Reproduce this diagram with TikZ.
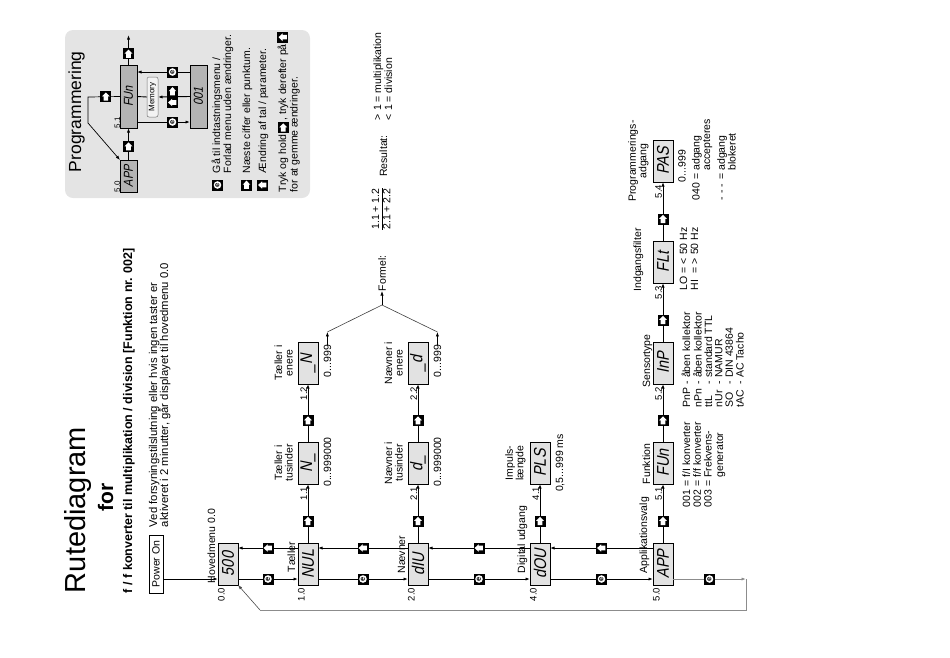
\documentclass[tikz,border=0pt]{standalone}
\usepackage{fontspec}
\setmainfont{Liberation Sans}
\newfontfamily\segfont{Liberation Sans}[FakeSlant=0.2,FakeStretch=0.85]
\usetikzlibrary{arrows.meta,calc}
\definecolor{boxfill}{HTML}{E2E2E2}
\definecolor{panelfill}{HTML}{E4E4E4}
\definecolor{pboxfill}{HTML}{B4B4B4}
\definecolor{retgrey}{HTML}{8C8C8C}
\tikzset{
  every node/.style={inner sep=0pt,outer sep=0pt},
  txt/.style={rotate=90,font=\fontsize{10.5}{10.5}\selectfont},
  lvl/.style={rotate=90,font=\fontsize{9.5}{9.5}\selectfont},
  nm/.style={txt,align=center},
  disp/.style={draw=black,line width=0.9pt,fill=boxfill,minimum width=20pt,minimum height=42pt,
    font=\segfont\fontsize{17}{17}\selectfont},
  pdisp/.style={draw=black,line width=0.8pt,fill=pboxfill,minimum width=17pt,
    font=\segfont\fontsize{13}{13}\selectfont},
  conn/.style={line width=0.9pt,-{Latex[length=4.5pt,width=3.2pt]}},
  thinline/.style={line width=0.6pt,draw=black!75},
  keybase/.style={fill=black,draw=none,minimum size=11pt,inner sep=0pt},
  ekey/.style={keybase,path picture={
      \fill[white] (path picture bounding box.center) circle (3.8pt);
      \node[rotate=90,font=\bfseries\fontsize{7.5}{7.5}\selectfont,text=black] at (path picture bounding box.center) {e};}},
  rkey/.style={keybase,path picture={
      \fill[white,shift={(path picture bounding box.center)}]
        (0,-4.3) -- (3.9,-0.3) -- (2.3,-0.3) -- (2.3,3.9) -- (-2.3,3.9) -- (-2.3,-0.3) -- (-3.9,-0.3) -- cycle;}},
  lkey/.style={keybase,path picture={
      \fill[white,shift={(path picture bounding box.center)}]
        (-4.3,0) -- (-0.3,-3.9) -- (-0.3,-2.3) -- (3.9,-2.3) -- (3.9,2.3) -- (-0.3,2.3) -- (-0.3,3.9) -- cycle;}}
}
\newcommand{\dt}[1]{\rotatebox{90}{#1}}
\begin{document}
\begin{tikzpicture}[x=1pt,y=-1pt]
\useasboundingbox (0,0) rectangle (950,657);

% ---------------- programming panel ----------------
\node[fill=panelfill,rounded corners=8pt,minimum width=245pt,minimum height=168pt] (panel) at (187.5,114) {};
\node[txt,font=\fontsize{17.5}{17.5}\selectfont,anchor=base west] (ptitle) at (81,172) {Programmering};
\node[pdisp,minimum height=32pt] (pAPP) at (128.5,176) {\dt{APP}};
\node[pdisp,minimum height=63pt] (pFUn) at (128.5,96.5) {\dt{FUn}};
\node[pdisp,minimum height=63pt] (p001) at (198.5,96.5) {\dt{001}};
\node[lvl,font=\fontsize{8}{8}\selectfont,anchor=base west] (p50) at (120,192) {5.0};
\node[lvl,font=\fontsize{8}{8}\selectfont,anchor=base west] (p51) at (120,128) {5.1};
\node[draw=black!55,line width=0.5pt,fill=white!55!panelfill,rounded corners=2pt,minimum width=11pt,minimum height=40pt,
      font=\fontsize{8}{8}\selectfont] (mem) at (152.5,97) {\dt{Memory}};
\coordinate (pout) at (128.5,35);
\coordinate (pl1) at (88,97);
\coordinate (pl2) at (88,123);
\draw[conn] (pAPP.north) -- node[rkey,pos=0.42] (pk0) {} (pFUn.south);
\draw[conn] (pFUn.north) -- node[rkey,pos=0.37] (pk5) {} (pout);
\draw[conn,line width=0.7pt] (pFUn.west) -- node[rkey,pos=0.44] (pk6) {} (pl1) -- (pl2) -- (pAPP.north west);
\draw[conn] ([yshift=24.5pt]p001.west) -- node[ekey,pos=0.33] (pk1) {} ([yshift=24.5pt]pFUn.east);
\draw[conn] (p001.west) -- (mem.east);
\draw[line width=0.9pt] (mem.west) -- (pFUn.east);
\draw[conn] ([yshift=-25.5pt]pFUn.east) -- node[ekey,pos=0.67] (pk4) {} ([yshift=-25.5pt]p001.west);
\node[rkey] (pk2) at (172.5,91.5) {};
\node[lkey] (pk3) at (172.5,102.5) {};
% legend
\node[ekey] (lk1) at (217.5,185) {};
\node[rkey] (lk2) at (246.5,185) {};
\node[lkey] (lk3) at (262.5,185) {};
\node[txt,anchor=base west] (lt1) at (220,173) {Gå til indtastningsmenu /};
\node[txt,anchor=base west] (lt2) at (231,173) {Forlad menu uden ændringer.};
\node[txt,anchor=base west] (lt3) at (250,173) {Næste ciffer eller punktum.};
\node[txt,anchor=base west] (lt4) at (266,173) {Ændring af tal / parameter.};
\node[txt,anchor=base west] (lt5a) at (286,192) {Tryk og hold};
\node[rkey] (lk4) at ($(lt5a.east)+(0,-7)$) {};
\node[txt,anchor=base west] (lt5b) at ($(lk4.north -| lt5a.base west)+(0,-1.5)$) {, tryk derefter på};
\node[lkey] (lk5) at ($(lt5b.east)+(0,-7)$) {};
\node[txt,anchor=base west] (lt6) at (297.5,192) {for at gemme ændringer.};

% ---------------- titles ----------------
\node[txt,font=\fontsize{29}{29}\selectfont,anchor=base] (title) at (85,510) {Rutediagram};
\node[txt,font=\bfseries\fontsize{21}{21}\selectfont,anchor=base] (for) at (113,497) {for};
\node[txt,font=\bfseries\fontsize{12.5}{12.5}\selectfont,anchor=base west] (sub) at (132,593)
  {f / f konverter til multiplikation / division [Funktion nr. 002]};
\node[txt,font=\fontsize{11.3}{11.3}\selectfont,anchor=base west] (ved1) at (157,527)
  {Ved forsyningstilslutning eller hvis ingen taster er};
\node[txt,font=\fontsize{11.3}{11.3}\selectfont,anchor=base west] (ved2) at (168,527)
  {aktiveret i 2 minutter, går displayet til hovedmenu 0.0};

% ---------------- main boxes ----------------
\node[draw=black,line width=0.8pt,minimum width=14pt,minimum height=58pt,font=\fontsize{10.5}{10.5}\selectfont] (pwr) at (156,564) {\dt{Power On}};
\node[disp] (b00) at (228,564) {\dt{500}};
\node[disp] (b10) at (308,564) {\dt{NUL}};
\node[disp] (b11) at (308,463) {\dt{N\_}};
\node[disp] (b12) at (308,363) {\dt{\_N}};
\node[disp] (b20) at (418,564) {\dt{dIU}};
\node[disp] (b21) at (418,463) {\dt{d\_}};
\node[disp] (b22) at (418,363) {\dt{\_d}};
\node[disp] (b40) at (540,564) {\dt{dOU}};
\node[disp] (b41) at (540,463) {\dt{PLS}};
\node[disp] (b50) at (663,564) {\dt{APP}};
\node[disp] (b51) at (663,463) {\dt{FUn}};
\node[disp] (b52) at (663,363) {\dt{InP}};
\node[disp] (b53) at (663,262) {\dt{FLt}};
\node[disp] (b54) at (663,161) {\dt{PAS}};

% level numbers
\foreach \b/\t in {b00/0.0,b10/1.0,b20/2.0,b40/4.0,b50/5.0}
  \node[lvl,anchor=north east] (l\b) at ([yshift=-3pt]\b.south west) {\t};
\foreach \b/\t in {b11/1.1,b12/1.2,b21/2.1,b22/2.2,b41/4.1,b51/5.1,b52/5.2,b53/5.3,b54/5.4}
  \node[lvl,anchor=south east] (l\b) at ([xshift=-1pt,yshift=-3pt]\b.south) {\t};

% names
\node[txt,anchor=base west] (nhm) at (215,583) {Hovedmenu 0.0};
\node[txt,anchor=base west] (n10) at (295,572) {Tæller};
\node[txt,anchor=base west] (n20) at (405,573) {Nævner};
\node[txt,anchor=base west] (n40) at (525,573) {Digital udgang};
\node[txt,anchor=base west] (n50) at (647,573) {Applikationsvalg};
\node[nm] (n11) at (283.5,463) {Tæller i\\tusinder};
\node[nm] (n12) at (283.5,363) {Tæller i\\enere};
\node[nm] (n21) at (393.5,463) {Nævner i\\tusinder};
\node[nm] (n22) at (393.5,363) {Nævner i\\enere};
\node[nm] (n41) at (515.5,463) {Impuls-\\længde};
\node[txt,anchor=base] (n51) at (650,464) {Funktion};
\node[txt,anchor=base] (n52) at (650,361) {Sensortype};
\node[txt,anchor=base] (n53) at (641,260) {Indgangsfilter};
\node[nm] (n54) at (638.5,161) {Programmerings-\\adgang};

% values
\node[txt,anchor=base] (v11) at (331,462) {0...999000};
\node[txt,anchor=base] (v12) at (331,361) {0...999};
\node[txt,anchor=base] (v21) at (441,462) {0...999000};
\node[txt,anchor=base] (v22) at (441,361) {0...999};
\node[txt,anchor=base] (v41) at (563,463) {0,5...999 ms};
\node[txt,anchor=base west] (v51) at (690,507)
  {\begin{tabular}[t]{@{}l@{ = }l@{}}001 & f/I konverter\\002 & f/f konverter\\003 & Frekvens-\\[1pt]
   \multicolumn{2}{@{}l@{}}{\hphantom{003 = }generator}\end{tabular}};
\node[txt,font=\fontsize{10.5}{10.2}\selectfont,anchor=base west] (v52) at (690,407)
  {\begin{tabular}[t]{@{}l@{ - }l@{}}PnP & åben kollektor\\nPn & åben kollektor\\ttL & standard TTL\\nUr & NAMUR\\SO & DIN 43864\\tAC & AC Tacho\end{tabular}};
\node[txt,font=\fontsize{10.5}{11}\selectfont,anchor=base west] (v53) at (687,290)
  {\begin{tabular}[t]{@{}l@{ = }l@{}}LO & < 50 Hz\\HI & > 50 Hz\end{tabular}};
\node[txt,anchor=base west] (v54a) at (685.5,182) {0...999};
\node[txt,anchor=base west] (v54b) at (699.5,200)
  {\begin{tabular}[t]{@{}l@{ = }l@{}}040 & adgang\\
   \multicolumn{2}{@{}l@{}}{\hphantom{040 = }accepteres}\\[4pt]
   - - - & adgang\\
   \multicolumn{2}{@{}l@{}}{\hphantom{040 = }blokeret}\end{tabular}};

% formula
\coordinate (J) at (382,305);
\node[txt,anchor=west] (formel) at (382,291) {Formel:};
\node[txt,font=\fontsize{10.5}{11}\selectfont] (frac) at (382.5,209)
  {\begin{tabular}{@{}c@{}}1.1 + 1.2\\\hline 2.1 + 2.2\end{tabular}};
\node[txt,anchor=base] (res) at (387,156) {Resultat:};
\node[txt,anchor=base west] (r1) at (381,120) {> 1 = multiplikation};
\node[txt,anchor=base west] (r2) at (392,120) {< 1 = division};
\draw[conn,line width=0.6pt] (v12.east) -- ++(0,-13) coordinate (c12);
\draw[conn,line width=0.6pt] (v22.east) -- ++(0,-13) coordinate (c22);
\draw[thinline] (c12) -- (J) -- (c22);
\draw[conn,line width=0.6pt] (J) -- (formel.west);

% ---------------- connectors ----------------
\draw[conn] ([yshift=-15pt]pwr.east) -- ([yshift=-15pt]b00.west);
\foreach \a/\b in {b00/b10,b10/b20,b20/b40,b40/b50} {
  \draw[conn] ([yshift=-15pt]\a.east) -- node[ekey] (ke\a) {} ([yshift=-15pt]\b.west);
  \draw[conn] ([yshift=16pt]\b.west) -- node[lkey] (kl\a) {} ([yshift=16pt]\a.east);
}
\foreach \a/\b in {b10/b11,b11/b12,b20/b21,b21/b22,b40/b41,b50/b51,b51/b52,b52/b53,b53/b54}
  \draw[conn] (\a.north) -- node[rkey,pos=0.37] (kr\b) {} (\b.south);

% return path
\coordinate (rt1) at (746,579);
\coordinate (rt2) at (746,610);
\coordinate (rt3) at (260,610);
\draw[conn,draw=retgrey] ([yshift=-15pt]b50.east) -- node[ekey] (keb50) {} (rt1);
\draw[line width=0.9pt,draw=retgrey] (rt1) -- (rt2) -- (rt3);
\draw[conn,line width=0.6pt,draw=black!70] (rt3) -- (b00.south east);
\end{tikzpicture}
\end{document}
